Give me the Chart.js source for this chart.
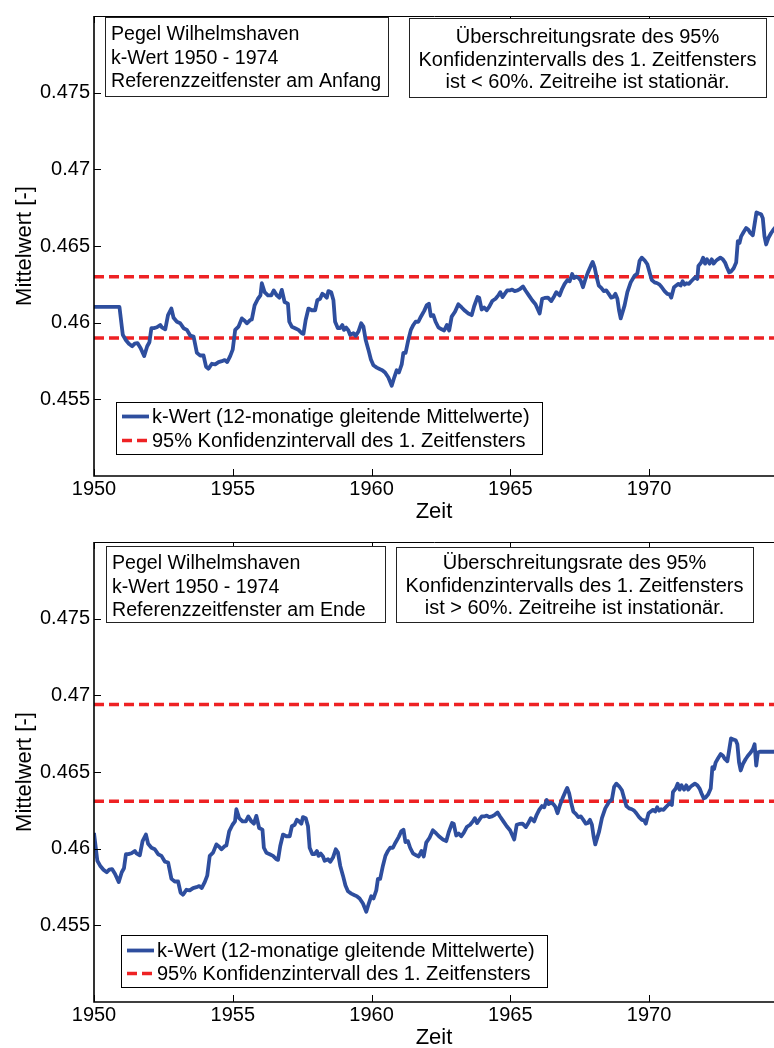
<!DOCTYPE html>
<html>
<head>
<meta charset="utf-8">
<script src="https://cdn.jsdelivr.net/npm/chart.js@4.4.1/dist/chart.umd.min.js"></script>
<style>
  html, body { margin: 0; padding: 0; background: #fff; overflow: hidden; width: 774px; height: 1048px; }
  .panel { position: absolute; left: 0; width: 774px; height: 524px; }
</style>
</head>
<body>
<div class="panel" style="top:0"><canvas id="oben" width="774" height="524"></canvas></div>
<div class="panel" style="top:526px"><canvas id="unten" width="774" height="524"></canvas></div>
<script>
// 12-monatige gleitende Mittelwerte des k-Werts, Pegel Wilhelmshaven.
// Zeitpunkt = Anfang des jeweiligen 12-Monats-Fensters (Dezimaljahre).
const zeit = [
  1950.00, 1950.12, 1950.22, 1950.34, 1950.46, 1950.55, 1950.65, 1950.76, 1950.89, 1951.00,
  1951.08, 1951.15, 1951.24, 1951.35, 1951.47, 1951.53, 1951.65, 1951.75, 1951.87, 1951.95,
  1952.07, 1952.19, 1952.31, 1952.43, 1952.55, 1952.67, 1952.79, 1952.91, 1953.03, 1953.12,
  1953.21, 1953.33, 1953.45, 1953.57, 1953.69, 1953.79, 1953.88, 1953.99, 1954.08, 1954.17,
  1954.29, 1954.41, 1954.51, 1954.59, 1954.71, 1954.77, 1954.87, 1954.99, 1955.08, 1955.13,
  1955.23, 1955.35, 1955.47, 1955.56, 1955.67, 1955.76, 1955.85, 1955.95, 1956.07, 1956.12,
  1956.21, 1956.33, 1956.45, 1956.57, 1956.63, 1956.71, 1956.81, 1956.93, 1957.05, 1957.13,
  1957.23, 1957.31, 1957.39, 1957.47, 1957.53, 1957.63, 1957.71, 1957.77, 1957.87, 1957.95,
  1958.03, 1958.09, 1958.17, 1958.25, 1958.31, 1958.43, 1958.51, 1958.61, 1958.71, 1958.79,
  1958.87, 1958.97, 1959.06, 1959.15, 1959.27, 1959.39, 1959.47, 1959.57, 1959.69, 1959.81,
  1959.90, 1959.99, 1960.07, 1960.17, 1960.23, 1960.31, 1960.41, 1960.50, 1960.59, 1960.67,
  1960.77, 1960.86, 1960.98, 1961.07, 1961.15, 1961.22, 1961.31, 1961.39, 1961.49, 1961.61,
  1961.70, 1961.80, 1961.88, 1961.97, 1962.09, 1962.21, 1962.33, 1962.45, 1962.57, 1962.69,
  1962.78, 1962.90, 1962.96, 1963.05, 1963.14, 1963.23, 1963.32, 1963.43, 1963.55, 1963.65,
  1963.72, 1963.80, 1963.88, 1963.97, 1964.06, 1964.15, 1964.24, 1964.34, 1964.44, 1964.54,
  1964.63, 1964.75, 1964.87, 1964.99, 1965.06, 1965.14, 1965.23, 1965.32, 1965.44, 1965.56,
  1965.66, 1965.74, 1965.86, 1965.95, 1966.04, 1966.14, 1966.22, 1966.31, 1966.38, 1966.46,
  1966.55, 1966.62, 1966.70, 1966.79, 1966.88, 1966.98, 1967.05, 1967.12, 1967.19, 1967.27,
  1967.36, 1967.45, 1967.54, 1967.63, 1967.72, 1967.79, 1967.87, 1967.94, 1968.00, 1968.06,
  1968.20, 1968.30, 1968.42, 1968.56, 1968.66, 1968.74, 1968.82, 1968.92, 1969.02, 1969.10,
  1969.18, 1969.28, 1969.38, 1969.46, 1969.54, 1969.64, 1969.74, 1969.82, 1969.88, 1969.98,
  1970.06, 1970.14, 1970.22, 1970.29, 1970.36, 1970.43, 1970.52, 1970.60, 1970.68, 1970.74,
  1970.82, 1970.86, 1970.96, 1971.03, 1971.10, 1971.17, 1971.26, 1971.34, 1971.41, 1971.49,
  1971.56, 1971.65, 1971.74, 1971.82, 1971.89, 1971.97, 1972.04, 1972.13, 1972.22, 1972.28,
  1972.34, 1972.40, 1972.49, 1972.58, 1972.66, 1972.73, 1972.82, 1972.88, 1972.95, 1973.02,
  1973.12, 1973.18, 1973.24, 1973.30, 1973.38, 1973.48, 1973.56, 1973.66, 1973.74, 1973.80,
  1973.86, 1973.92, 1973.99
];
const kWert = [
  0.46103, 0.45921, 0.45889, 0.45863, 0.45846, 0.45863, 0.45867, 0.45835, 0.45782, 0.45846,
  0.45872, 0.45964, 0.45964, 0.45970, 0.45985, 0.45970, 0.45957, 0.46049, 0.46092, 0.46032,
  0.46006, 0.45996, 0.45964, 0.45953, 0.45916, 0.45910, 0.45803, 0.45786, 0.45786, 0.45713,
  0.45700, 0.45732, 0.45728, 0.45743, 0.45749, 0.45756, 0.45743, 0.45782, 0.45824, 0.45953,
  0.45974, 0.46028, 0.46013, 0.45996, 0.46017, 0.46021, 0.46113, 0.46156, 0.46178, 0.46257,
  0.46199, 0.46178, 0.46178, 0.46210, 0.46178, 0.46163, 0.46214, 0.46135, 0.46124, 0.46006,
  0.45974, 0.45964, 0.45953, 0.45931, 0.45927, 0.46017, 0.46092, 0.46081, 0.46081, 0.46146,
  0.46156, 0.46188, 0.46178, 0.46163, 0.46206, 0.46199, 0.46146, 0.46006, 0.45964, 0.45964,
  0.45985, 0.45953, 0.45968, 0.45949, 0.45921, 0.45931, 0.45914, 0.45942, 0.45996, 0.45974,
  0.45889, 0.45824, 0.45760, 0.45722, 0.45707, 0.45696, 0.45690, 0.45675, 0.45642, 0.45589,
  0.45642, 0.45690, 0.45675, 0.45728, 0.45803, 0.45803, 0.45889, 0.45953, 0.45985, 0.46006,
  0.46006, 0.46039, 0.46077, 0.46113, 0.46124, 0.46043, 0.46049, 0.46006, 0.45970, 0.45957,
  0.45949, 0.45985, 0.45949, 0.46039, 0.46071, 0.46120, 0.46099, 0.46077, 0.46060, 0.46049,
  0.46107, 0.46167, 0.46163, 0.46086, 0.46099, 0.46081, 0.46103, 0.46141, 0.46156, 0.46178,
  0.46199, 0.46167, 0.46188, 0.46210, 0.46210, 0.46216, 0.46206, 0.46210, 0.46221, 0.46236,
  0.46210, 0.46178, 0.46146, 0.46120, 0.46092, 0.46060, 0.46156, 0.46161, 0.46163, 0.46141,
  0.46171, 0.46199, 0.46178, 0.46221, 0.46253, 0.46278, 0.46270, 0.46317, 0.46291, 0.46300,
  0.46291, 0.46274, 0.46231, 0.46285, 0.46328, 0.46370, 0.46396, 0.46360, 0.46300, 0.46242,
  0.46227, 0.46206, 0.46210, 0.46188, 0.46163, 0.46167, 0.46188, 0.46156, 0.46081, 0.46028,
  0.46113, 0.46199, 0.46263, 0.46306, 0.46321, 0.46403, 0.46424, 0.46407, 0.46381, 0.46328,
  0.46278, 0.46263, 0.46257, 0.46248, 0.46231, 0.46206, 0.46188, 0.46184, 0.46163, 0.46231,
  0.46242, 0.46253, 0.46242, 0.46270, 0.46248, 0.46257, 0.46253, 0.46270, 0.46285, 0.46296,
  0.46285, 0.46370, 0.46392, 0.46424, 0.46385, 0.46413, 0.46385, 0.46413, 0.46385, 0.46403,
  0.46413, 0.46424, 0.46413, 0.46392, 0.46360, 0.46328, 0.46334, 0.46355, 0.46392, 0.46531,
  0.46520, 0.46563, 0.46591, 0.46617, 0.46606, 0.46585, 0.46570, 0.46638, 0.46719, 0.46713,
  0.46707, 0.46681, 0.46563, 0.46510, 0.46552, 0.46585, 0.46606, 0.46627, 0.46649, 0.46681,
  0.46542, 0.46627, 0.46632
];

// Ein 12-Monats-Fenster endet 11 Monate nach seinem Anfang.
const fensterVersatz = 11 / 12;

// 95%-Konfidenzintervall des Referenzzeitfensters [unten, oben]
const kiAnfang = [0.4590, 0.4630];
const kiEnde   = [0.4631, 0.4694];

const xBereich = [1950, 1974.5];
const xTicks = [1950, 1955, 1960, 1965, 1970];
const yBereich = [0.45, 0.48];
const yTicks = [0.455, 0.46, 0.465, 0.47, 0.475];
const yTickLabels = ['0.455', '0.46', '0.465', '0.47', '0.475'];

const legendeTexte = ['k-Wert (12-monatige gleitende Mittelwerte)', '95% Konfidenzintervall des 1. Zeitfensters'];
const infoOben = [
  ['Pegel Wilhelmshaven', 'k-Wert 1950 - 1974', 'Referenzzeitfenster am Anfang'],
  ['Überschreitungsrate des 95%', 'Konfidenzintervalls des 1. Zeitfensters', 'ist < 60%. Zeitreihe ist stationär.']
];
const infoUnten = [
  ['Pegel Wilhelmshaven', 'k-Wert 1950 - 1974', 'Referenzzeitfenster am Ende'],
  ['Überschreitungsrate des 95%', 'Konfidenzintervalls des 1. Zeitfensters', 'ist > 60%. Zeitreihe ist instationär.']
];

const BLAU = '#2e4e9e';
const ROT = '#ee2224';
const SCHRIFT = '"Liberation Sans", Arial, Helvetica, sans-serif';

// Rahmen mit nach innen zeigenden Teilstrichen, oben und unten gespiegelt
const rahmenPlugin = {
  id: 'rahmen',
  afterDatasetsDraw(chart) {
    const { ctx, chartArea: a, scales: { x, y } } = chart;
    ctx.save();
    ctx.strokeStyle = '#000';
    ctx.lineWidth = 1;
    ctx.beginPath();
    xTicks.forEach(v => {
      const px = Math.round(x.getPixelForValue(v)) + 0.5;
      ctx.moveTo(px, a.bottom); ctx.lineTo(px, a.bottom - 7);
      ctx.moveTo(px, a.top); ctx.lineTo(px, a.top + 7);
    });
    yTicks.forEach(v => {
      const py = Math.round(y.getPixelForValue(v)) + 0.5;
      ctx.moveTo(a.left, py); ctx.lineTo(a.left + 7, py);
    });
    ctx.stroke();
    ctx.beginPath();
    ctx.moveTo(a.left, Math.round(a.top) + 0.5);
    ctx.lineTo(a.right + 2, Math.round(a.top) + 0.5);
    ctx.stroke();
    ctx.lineWidth = 1.6;
    ctx.beginPath();
    ctx.moveTo(a.left, a.top);
    ctx.lineTo(a.left, a.bottom);
    ctx.lineTo(a.right + 2, a.bottom);
    ctx.stroke();
    ctx.restore();
  }
};

// Textkästen und Legende innerhalb der Achsen
const kaestenPlugin = {
  id: 'kaesten',
  afterDraw(chart, args, opts) {
    const { ctx } = chart;
    ctx.save();
    ctx.textBaseline = 'alphabetic';
    (opts.boxen || []).forEach(b => {
      ctx.font = b.schrift + 'px ' + SCHRIFT;
      ctx.fillStyle = '#fff';
      ctx.fillRect(b.x, b.y, b.w, b.h);
      ctx.strokeStyle = '#222';
      ctx.lineWidth = 1;
      ctx.strokeRect(Math.round(b.x) + 0.5, Math.round(b.y) + 0.5, Math.round(b.w), Math.round(b.h));
      ctx.fillStyle = '#000';
      ctx.textAlign = b.align;
      const tx = b.align === 'center' ? b.x + b.w / 2 : b.x + 6;
      b.zeilen.forEach((z, i) => ctx.fillText(z, tx, b.y + b.basis + i * b.abstand));
    });
    const L = opts.legende;
    if (L) {
      ctx.font = '20px ' + SCHRIFT;
      ctx.fillStyle = '#fff';
      ctx.fillRect(L.x, L.y, L.w, L.h);
      ctx.strokeStyle = '#000';
      ctx.lineWidth = 1;
      ctx.strokeRect(Math.round(L.x) + 0.5, Math.round(L.y) + 0.5, Math.round(L.w), Math.round(L.h));
      const eintraege = chart.data.datasets.filter(d => d.imLegende);
      eintraege.forEach((d, i) => {
        const cy = L.y + L.erste + i * L.abstand;
        ctx.strokeStyle = d.borderColor;
        ctx.lineWidth = d.borderWidth;
        ctx.setLineDash(d.borderDash || []);
        ctx.beginPath();
        ctx.moveTo(L.x + 6, cy);
        ctx.lineTo(L.x + 33, cy);
        ctx.stroke();
        ctx.setLineDash([]);
        ctx.fillStyle = '#000';
        ctx.textAlign = 'left';
        ctx.textBaseline = 'middle';
        ctx.fillText(d.label, L.x + 36, cy + 1);
      });
    }
    ctx.restore();
  }
};

function erstellePanel(id, reihe, ki, info, lage) {
  const kiLinie = (wert) => [{ x: xBereich[0], y: wert }, { x: xBereich[1], y: wert }];
  new Chart(document.getElementById(id), {
    type: 'line',
    data: {
      datasets: [
        { label: legendeTexte[0], data: reihe, borderColor: BLAU, borderWidth: 3.8,
          pointRadius: 0, tension: 0, imLegende: true, borderJoinStyle: 'round' },
        { label: legendeTexte[1], data: kiLinie(ki[0]), borderColor: ROT, borderWidth: 3.5,
          borderDash: [10, 5], pointRadius: 0, imLegende: true },
        { label: legendeTexte[1], data: kiLinie(ki[1]), borderColor: ROT, borderWidth: 3.5,
          borderDash: [10, 5], pointRadius: 0 }
      ]
    },
    options: {
      responsive: false,
      animation: false,
      devicePixelRatio: 1,
      layout: { padding: { top: 10, right: 0, left: 0, bottom: 0 } },
      parsing: false,
      plugins: {
        legend: { display: false },
        tooltip: { enabled: false },
        kaesten: { boxen: lage.boxen.map((b, i) => ({ ...b, zeilen: info[i] })), legende: lage.legende }
      },
      scales: {
        x: {
          type: 'linear', min: xBereich[0], max: xBereich[1],
          afterBuildTicks: s => { s.ticks = xTicks.map(v => ({ value: v })); },
          afterFit: s => { s.height = 48; },
          grid: { display: false, drawTicks: false },
          border: { display: false },
          ticks: { color: '#000', font: { family: SCHRIFT, size: 20 }, padding: 1,
                   callback: v => String(v), maxRotation: 0 },
          title: { display: true, text: 'Zeit', color: '#000',
                   font: { family: SCHRIFT, size: 22 }, padding: { top: 0, bottom: -1 } }
        },
        y: {
          type: 'linear', min: yBereich[0], max: yBereich[1],
          afterBuildTicks: s => { s.ticks = yTicks.map(v => ({ value: v })); },
          afterFit: s => { s.width = 94; },
          grid: { display: false, drawTicks: false },
          border: { display: false },
          ticks: { color: '#000', font: { family: SCHRIFT, size: 20 }, padding: 4,
                   callback: (v) => yTickLabels[yTicks.indexOf(v)] },
          title: { display: true, text: 'Mittelwert [-]', color: '#000',
                   font: { family: SCHRIFT, size: 22 }, padding: { top: 12, bottom: 0 } }
        }
      }
    },
    plugins: [rahmenPlugin, kaestenPlugin]
  });
}

// Oben: Werte am Fensterende; vor dem ersten vollständigen Fenster wird der erste Wert gehalten
const reiheOben = [{ x: xBereich[0], y: kWert[0] }]
  .concat(kWert.map((v, i) => ({ x: zeit[i] + fensterVersatz, y: v })));
// Unten: Werte am Fensteranfang; nach dem letzten Fenster wird der letzte Wert gehalten
const reiheUnten = kWert.map((v, i) => ({ x: zeit[i], y: v }))
  .concat([{ x: zeit[zeit.length - 1] + fensterVersatz, y: kWert[kWert.length - 1] }]);

erstellePanel('oben', reiheOben, kiAnfang, infoOben, {
  boxen: [
    { x: 105, y: 17, w: 283, h: 79, align: 'left', basis: 23, abstand: 23.5, schrift: 19.6 },
    { x: 409, y: 18, w: 357, h: 79, align: 'center', basis: 25, abstand: 22.5, schrift: 20 }
  ],
  legende: { x: 116, y: 402, w: 426, h: 52, erste: 14.5, abstand: 24 }
});
erstellePanel('unten', reiheUnten, kiEnde, infoUnten, {
  boxen: [
    { x: 106, y: 20, w: 279, h: 76, align: 'left', basis: 23, abstand: 23.5, schrift: 19.6 },
    { x: 396, y: 21, w: 357, h: 75, align: 'center', basis: 22, abstand: 22.5, schrift: 20 }
  ],
  legende: { x: 121, y: 409, w: 426, h: 52, erste: 15.5, abstand: 23 }
});
</script>
</body>
</html>
